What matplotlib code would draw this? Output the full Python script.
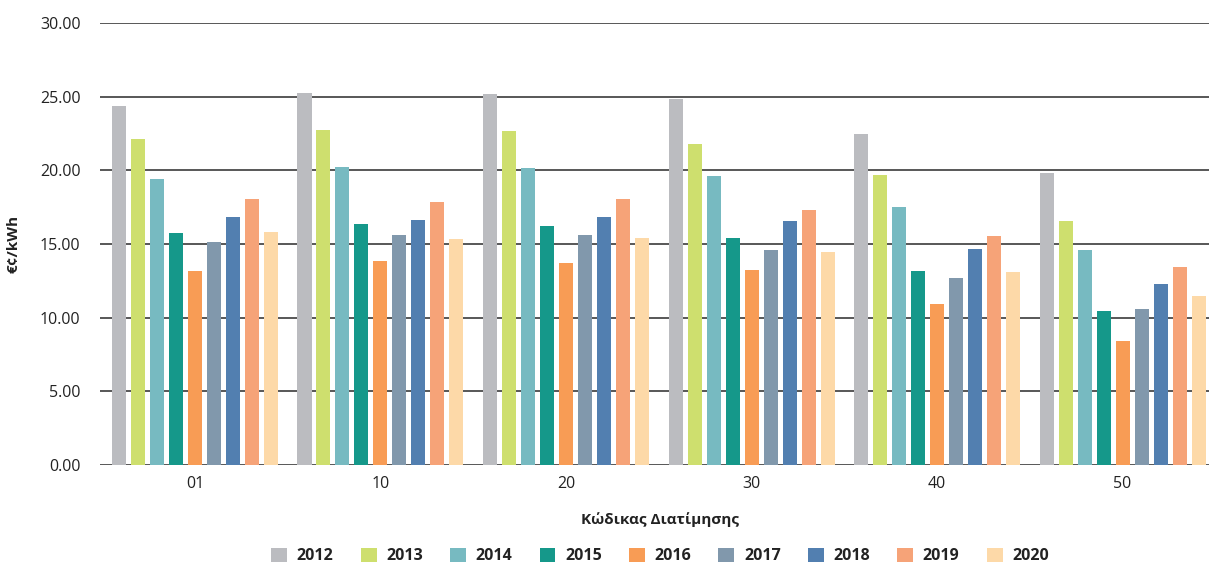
import matplotlib
matplotlib.use("Agg")
import matplotlib.pyplot as plt
import numpy as np

categories = ["01", "10", "20", "30", "40", "50"]
years = ["2012", "2013", "2014", "2015", "2016", "2017", "2018", "2019", "2020"]
v2012 = [24.37, 25.25, 25.19, 24.85, 22.47, 19.82]
v2013 = [22.13, 22.74, 22.67, 21.79, 19.69, 16.56]
v2014 = [19.42, 20.23, 20.16, 19.62, 17.52, 14.60]
v2015 = [15.75, 16.36, 16.23, 15.41, 13.17, 10.45]
v2016 = [13.17, 13.85, 13.71, 13.24, 10.93, 8.42]
v2017 = [15.14, 15.61, 15.61, 14.60, 12.70, 10.59]
v2018 = [16.84, 16.63, 16.84, 16.56, 14.66, 12.29]
v2019 = [18.06, 17.85, 18.06, 17.31, 15.55, 13.44]
v2020 = [15.82, 15.34, 15.41, 14.46, 13.10, 11.47]
series = [v2012, v2013, v2014, v2015, v2016, v2017, v2018, v2019, v2020]
colors = ["#BBBCC0", "#CEDF6E", "#77BAC1", "#15988A", "#F89C55",
          "#8198AC", "#527FB0", "#F6A378", "#FDD9A8"]

plt.rcParams['font.family'] = ['Open Sans', 'DejaVu Sans']

fig = plt.figure(figsize=(12.09, 5.66), dpi=100)
ax = fig.add_axes([0.0827, 0.1784, 1 - 0.0827, 0.9594 - 0.1784])

x = np.arange(len(categories))
pitch = 0.1024
width = 0.0755
for i, (vals, c, y) in enumerate(zip(series, colors, years)):
    off = (i - 4) * pitch
    ax.bar(x + off, vals, width=width, color=c, label=y, zorder=3)

ax.set_ylim(0, 30)
ax.set_xlim(-0.512, 5.466)
ax.set_yticks(np.arange(0, 30.1, 5))
ax.set_yticklabels([f"{t:.2f}" for t in np.arange(0, 30.1, 5)])
ax.set_xticks(x)
ax.set_xticklabels(categories)
ax.grid(axis='y', color='#4a4a4a', linewidth=1.3, zorder=0)
ax.set_axisbelow(True)
for s in ax.spines.values():
    s.set_visible(False)
ax.tick_params(axis='both', length=0, labelsize=11.5, colors='#222222')
ax.tick_params(axis='y', pad=14)
ax.tick_params(axis='x', pad=8)

ax.set_ylabel("€¢/kWh", fontsize=11, fontweight='bold', color='#222222', labelpad=14)
fig.text(660 / 1209, 1 - 520 / 566, "Κώδικας Διατίμησης", ha='center', va='center',
         fontsize=11, fontweight='bold', color='#222222')

leg = fig.legend(loc='center', bbox_to_anchor=(660 / 1209, 1 - 556 / 566), ncol=9,
                 frameon=False, handlelength=1.0, handleheight=1.0, handletextpad=0.6,
                 columnspacing=1.7, prop={'weight': 'bold', 'size': 11.5})
for t in leg.get_texts():
    t.set_color('#222222')

fig.savefig("out.png", dpi=100)
